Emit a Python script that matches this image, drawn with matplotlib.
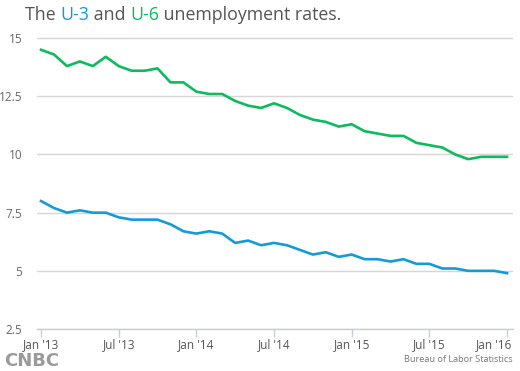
import matplotlib
matplotlib.use("Agg")
import matplotlib.pyplot as plt
import matplotlib.transforms as mtransforms

months = list(range(37))
u3 = [8.0, 7.7, 7.5, 7.6, 7.5, 7.5, 7.3, 7.2, 7.2, 7.2, 7.0, 6.7,
      6.6, 6.7, 6.6, 6.2, 6.3, 6.1, 6.2, 6.1, 5.9, 5.7, 5.8, 5.6,
      5.7, 5.5, 5.5, 5.4, 5.5, 5.3, 5.3, 5.1, 5.1, 5.0, 5.0, 5.0, 4.9]
u6 = [14.5, 14.3, 13.8, 14.0, 13.8, 14.2, 13.8, 13.6, 13.6, 13.7, 13.1, 13.1,
      12.7, 12.6, 12.6, 12.3, 12.1, 12.0, 12.2, 12.0, 11.7, 11.5, 11.4, 11.2,
      11.3, 11.0, 10.9, 10.8, 10.8, 10.5, 10.4, 10.3, 10.0, 9.8, 9.9, 9.9, 9.9]
xtick_pos = [0, 6, 12, 18, 24, 30, 36]
xtick_labels = ["Jan '13", "Jul '13", "Jan '14", "Jul '14", "Jan '15", "Jul '15", "Jan '16"]
yticks = [2.5, 5, 7.5, 10, 12.5, 15]
ytick_labels = ["2.5", "5", "7.5", "10", "12.5", "15"]

BLUE = "#149bd7"
GREEN = "#0dba5c"
GRAY = "#555555"
plt.rcParams['font.family'] = ['Open Sans', 'DejaVu Sans']

fig = plt.figure(figsize=(5.2, 3.71), dpi=100)
ax = fig.add_axes([37/520, 42/371, 476/520, 292/371])
ax.plot(months, u6, color=GREEN, lw=1.9, solid_joinstyle='round', zorder=3)
ax.plot(months, u3, color=BLUE, lw=1.9, solid_joinstyle='round', zorder=3)
ax.set_xlim(-0.31, 36.46)
ax.set_ylim(2.5, 15.05)
for s in ['left', 'right', 'top']:
    ax.spines[s].set_visible(False)
ax.spines['bottom'].set_color('#c3cede')
ax.spines['bottom'].set_linewidth(1.0)
ax.set_yticks(yticks)
ax.set_yticklabels(ytick_labels)
ax.set_xticks(xtick_pos)
ax.set_xticklabels(xtick_labels)
ax.tick_params(axis='y', length=0, pad=10.5, labelsize=8.5, labelcolor='#666666')
ax.tick_params(axis='x', length=6, width=1, color='#c3cede', pad=0.5, labelsize=8.5, labelcolor='#555555')
for lab in ax.get_yticklabels():
    lab.set_horizontalalignment('right')
last = ax.get_xticklabels()[-1]
last.set_horizontalalignment('right')
last.set_transform(last.get_transform() + mtransforms.ScaledTranslation(5/100, 0, fig.dpi_scale_trans))
ax.grid(axis='y', color='#d6d6d6', lw=1)
ax.set_axisbelow(True)

# multicolored title
parts = [("The ", GRAY), ("U-3", BLUE), (" and ", GRAY), ("U-6", GREEN), (" unemployment rates.", GRAY)]
fig.canvas.draw()
r = fig.canvas.get_renderer()
x = 25/520
for txt, c in parts:
    t = fig.text(x, 1 - 15/371, txt, color=c, fontsize=12.8, va='center', ha='left')
    bb = t.get_window_extent(renderer=r)
    x += bb.width / 520

fig.text(513/520, 1 - 360/371, "Bureau of Labor Statistics", color='#777777', fontsize=6.6, ha='right', va='center')
fig.text(4/520, 1 - 366/371, "CNBC", color='#9a9a9a', fontsize=13, fontweight='heavy', family=['DejaVu Sans'], ha='left', va='baseline')

fig.savefig("out.png", dpi=100)
